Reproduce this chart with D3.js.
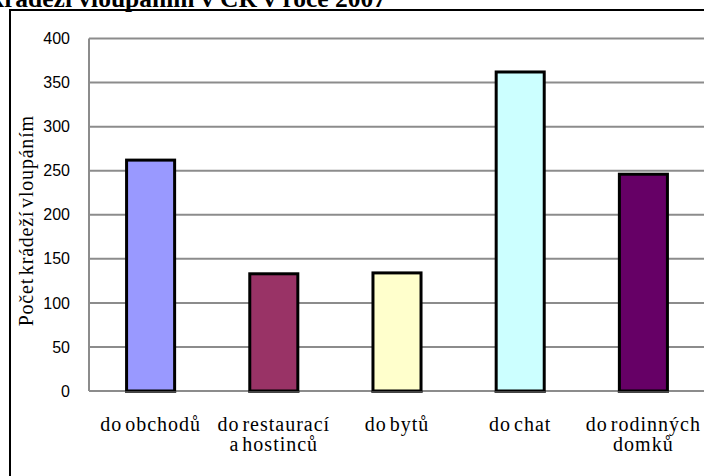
<!DOCTYPE html>
<html>
<head>
<meta charset="utf-8">
<script src="https://cdn.jsdelivr.net/npm/d3@7"></script>
<style>
  body { margin: 0; background: #fff; }
  svg { display: block; }
  .serif { font-family: "Liberation Serif", "DejaVu Serif", "Times New Roman", serif; }
</style>
</head>
<body>
<svg id="chart" width="704" height="476" viewBox="0 0 704 476"></svg>
<script>
// data
const categories = ["do obchodů", "do restaurací a hostinců", "do bytů", "do chat", "do rodinných domků"];
const labelLines = [["do obchodů"], ["do restaurací", "a hostinců"], ["do bytů"], ["do chat"], ["do rodinných", "domků"]];
const values = [262, 133, 134, 362, 246];
const barColors = ["#9999ff", "#993366", "#ffffcc", "#ccffff", "#660066"];
const yTicks = [0, 50, 100, 150, 200, 250, 300, 350, 400];

const svg = d3.select("#chart")
const width = parseInt(svg.attr("viewBox").split(' ')[2])
const height = parseInt(svg.attr("viewBox").split(' ')[3])

const plot = {left: 89, right: 705, top: 38.5, bottom: 391}

// title, cut off on the left / top like the source
svg.append("text")
    .attr("class", "serif")
    .attr("x", 386)
    .attr("y", 7)
    .attr("text-anchor", "end")
    .style("font-weight", "bold")
    .style("font-size", "25.5px")
    .text("Počet krádeží vloupáním v ČR v roce 2007")

// outer frame
svg.append("rect")
    .attr("x", 10).attr("y", 10)
    .attr("width", width + 20).attr("height", height + 20)
    .attr("fill", "none")
    .attr("stroke", "#000")
    .attr("stroke-width", 2)

const x = d3.scaleBand()
    .domain(categories)
    .range([plot.left, plot.right])
    .paddingInner(0.61)
    .paddingOuter(0.305)

const y = d3.scaleLinear()
    .domain([0, 400])
    .range([plot.bottom, plot.top])

// gridlines
svg.append("g")
    .selectAll("line")
    .data(yTicks)
    .enter()
    .append("line")
    .attr("x1", plot.left)
    .attr("x2", plot.right)
    .attr("y1", d => y(d))
    .attr("y2", d => y(d))
    .attr("stroke", "#8c8c8c")
    .attr("stroke-width", 2)

// left axis line
svg.append("line")
    .attr("x1", plot.left).attr("x2", plot.left)
    .attr("y1", y(400)).attr("y2", y(0))
    .attr("stroke", "#8c8c8c")
    .attr("stroke-width", 2)

// y tick labels
const yAxis = svg.append("g")
    .attr("transform", `translate(${plot.left},0)`)
    .call(d3.axisLeft(y).tickValues(yTicks).tickSize(0).tickPadding(19))
yAxis.select(".domain").remove()
yAxis.selectAll("text")
    .style("font-family", "'Liberation Sans', Arial, sans-serif")
    .style("font-size", "16px")
    .attr("fill", "#000")

// bars
svg.append("g")
    .selectAll("rect")
    .data(values)
    .enter()
    .append("rect")
    .attr("x", (d, i) => x(categories[i]))
    .attr("y", d => y(d))
    .attr("width", x.bandwidth())
    .attr("height", d => y(0) - y(d))
    .attr("fill", (d, i) => barColors[i])
    .attr("stroke", "#000")
    .attr("stroke-width", 3)

// dark shadow under each bar at the baseline
svg.append("g")
    .selectAll("line")
    .data(values)
    .enter()
    .append("line")
    .attr("x1", (d, i) => x(categories[i]) - 1.5)
    .attr("x2", (d, i) => x(categories[i]) + x.bandwidth() + 1.5)
    .attr("y1", y(0) + 1)
    .attr("y2", y(0) + 1)
    .attr("stroke", "#444")
    .attr("stroke-width", 2)

// category labels
const catLabels = svg.append("g")
    .selectAll("text")
    .data(labelLines)
    .enter()
    .append("text")
    .attr("class", "serif")
    .attr("text-anchor", "middle")
    .style("font-size", "20px")
    .style("letter-spacing", "1px")
    .style("word-spacing", "-3px")
catLabels.selectAll("tspan")
    .data((d, i) => d.map(t => ({t: t, i: i})))
    .enter()
    .append("tspan")
    .attr("x", d => x(categories[d.i]) + x.bandwidth() / 2)
    .attr("y", (d, j) => 431 + j * 20)
    .text(d => d.t)

// y axis title
svg.append("text")
    .attr("class", "serif")
    .attr("transform", `translate(33,${(plot.top + plot.bottom) / 2 + 6}) rotate(-90)`)
    .attr("text-anchor", "middle")
    .style("font-size", "20px")
    .style("letter-spacing", "0.8px")
    .style("word-spacing", "-3px")
    .text("Počet krádeží vloupáním")
</script>
</body>
</html>
